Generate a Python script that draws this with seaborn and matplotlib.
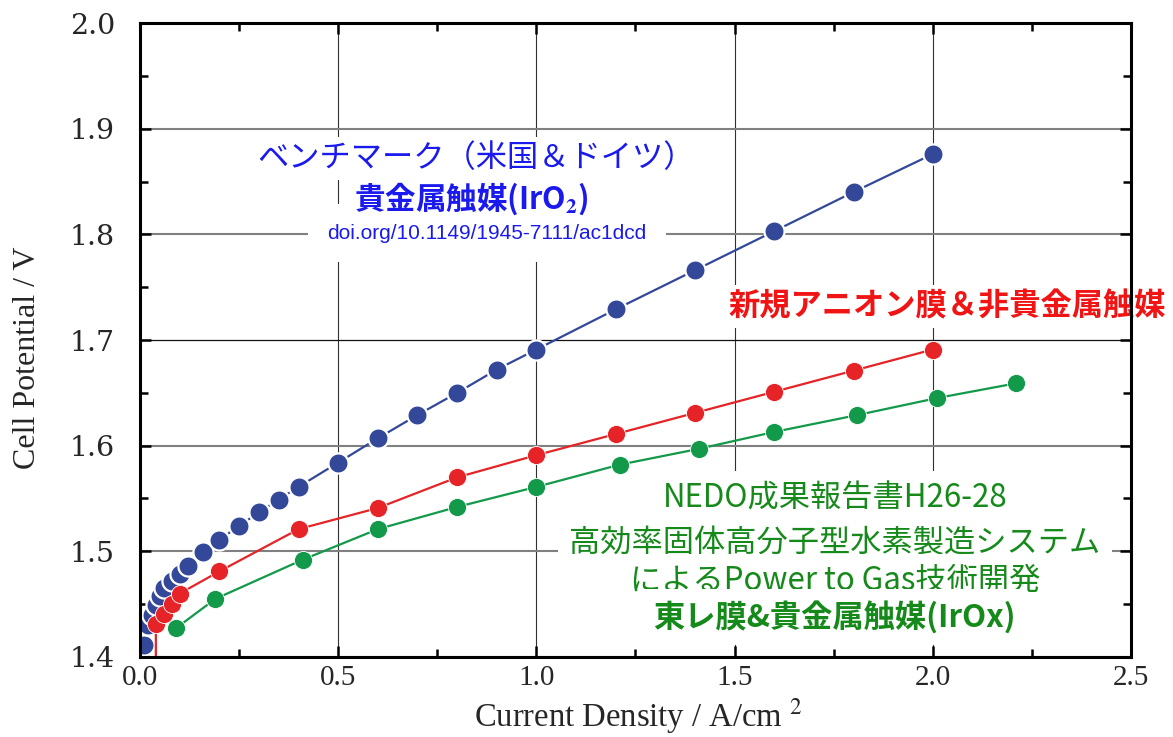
import matplotlib
matplotlib.use("Agg")
import matplotlib.pyplot as plt
import seaborn as sns
from matplotlib.ticker import MultipleLocator

# ---------------- data ----------------
blue_x = [0.00, 0.01, 0.02, 0.03, 0.04, 0.05, 0.06, 0.08, 0.10, 0.12, 0.16, 0.20,
          0.25, 0.30, 0.35, 0.40, 0.50, 0.60, 0.70, 0.80, 0.90, 1.00, 1.20, 1.40,
          1.60, 1.80, 2.00]
blue_y = [1.400, 1.411, 1.430, 1.440, 1.449, 1.458, 1.465, 1.472, 1.479, 1.486,
          1.499, 1.511, 1.524, 1.537, 1.549, 1.561, 1.584, 1.607, 1.629, 1.650,
          1.672, 1.691, 1.729, 1.766, 1.803, 1.840, 1.876]

red_x = [0.04, 0.04, 0.06, 0.08, 0.10, 0.20, 0.40, 0.60, 0.80, 1.00, 1.20, 1.40,
         1.60, 1.80, 2.00]
red_y = [1.30, 1.431, 1.441, 1.450, 1.460, 1.481, 1.521, 1.541, 1.570, 1.591,
         1.611, 1.631, 1.651, 1.671, 1.691]

green_x = [0.09, 0.19, 0.41, 0.60, 0.80, 1.00, 1.21, 1.41, 1.60, 1.81, 2.01, 2.21]
green_y = [1.427, 1.455, 1.492, 1.521, 1.542, 1.561, 1.582, 1.597, 1.613, 1.629,
           1.645, 1.659]

x_ticks = [0.0, 0.5, 1.0, 1.5, 2.0, 2.5]
x_tick_labels = ["0.0", "0.5", "1.0", "1.5", "2.0", "2.5"]
y_ticks = [1.4, 1.5, 1.6, 1.7, 1.8, 1.9, 2.0]
y_tick_labels = ["1.4", "1.5", "1.6", "1.7", "1.8", "1.9", "2.0"]

x_label = "Current Density / A/cm $^{2}$"
y_label = "Cell Potential / V"

blue_text = ["ベンチマーク（米国＆ドイツ）", r"貴金属触媒(IrO$_{\mathbf{2}}$)",
             "doi.org/10.1149/1945-7111/ac1dcd"]
red_text = "新規アニオン膜＆非貴金属触媒"
green_text = ["NEDO成果報告書H26-28", "高効率固体高分子型水素製造システム",
              "によるPower to Gas技術開発", "東レ膜&貴金属触媒(IrOx)"]

# ---------------- style ----------------
BLUE = "#34489a"
RED = "#e62326"
GREEN = "#12994a"
BLUE_TXT = "#1a1aee"
RED_TXT = "#f01414"
GREEN_TXT = "#158a1a"

sns.set_style("ticks")
plt.rcParams["font.family"] = ["Noto Sans CJK JP", "DejaVu Sans"]
plt.rcParams["mathtext.fontset"] = "stix"

fig = plt.figure(figsize=(11.73, 7.37), dpi=100)
ax = fig.add_axes([0.11935, 0.10855, 0.84484, 0.86024])

sns.lineplot(x=blue_x, y=blue_y, ax=ax, color=BLUE, marker="o", markersize=14.5,
             markeredgecolor="white", markeredgewidth=1.6, linewidth=1.6,
             estimator=None, sort=False, zorder=3)
sns.lineplot(x=green_x, y=green_y, ax=ax, color=GREEN, marker="o", markersize=13,
             markeredgecolor="white", markeredgewidth=0.6, linewidth=1.6,
             estimator=None, sort=False, zorder=3)
sns.lineplot(x=red_x, y=red_y, ax=ax, color=RED, marker="o", markersize=13,
             markeredgecolor="white", markeredgewidth=0.6, linewidth=1.6,
             estimator=None, sort=False, zorder=4)

ax.set_xlim(0.0, 2.5)
ax.set_ylim(1.4, 2.0)
ax.set_xticks(x_ticks)
ax.set_xticklabels(x_tick_labels, fontfamily="Liberation Serif", fontsize=21)
ax.set_yticks(y_ticks)
ax.set_yticklabels(y_tick_labels, fontfamily="DejaVu Serif", fontsize=20.5)
ax.xaxis.set_minor_locator(MultipleLocator(0.25))
ax.yaxis.set_minor_locator(MultipleLocator(0.05))
ax.tick_params(which="both", direction="in", top=True, right=True, width=1.8,
               color="black")
ax.tick_params(which="major", length=8)
ax.tick_params(which="minor", length=6)
ax.tick_params(axis="y", which="major", pad=18)
ax.tick_params(axis="x", which="major", pad=6)

for s in ax.spines.values():
    s.set_linewidth(2.2)
    s.set_color("black")
    s.set_zorder(5)

ax.set_axisbelow(True)
ax.grid(axis="y", which="major", color="#808080", linewidth=1.5)
ax.grid(axis="x", which="major", color="#303030", linewidth=0.8)
for val, gl in zip(y_ticks, ax.yaxis.get_gridlines()):
    if abs(val - 1.7) < 1e-9:
        gl.set_color("#111111")
        gl.set_linewidth(0.9)

ax.set_xlabel(x_label, fontfamily="Liberation Serif", fontsize=23.5)
ax.set_ylabel(y_label, fontfamily="Liberation Serif", fontsize=23)
ax.xaxis.set_label_coords(0.503, -0.062)
ax.yaxis.set_label_coords(-0.099, 0.472)

box = dict(facecolor="white", edgecolor="none", pad=4)

# blue annotation
ax.text(0.848, 1.872, blue_text[0], color=BLUE_TXT, fontsize=22.5, ha="center",
        va="center", bbox=box, zorder=2.6)
ax.text(0.835, 1.834, blue_text[1], color=BLUE_TXT, fontsize=22, fontweight="bold",
        ha="center", va="center", bbox=box, zorder=2.6)
ax.text(0.875, 1.801, blue_text[2], color=BLUE_TXT, fontsize=15,
        fontfamily="Liberation Sans", ha="center", va="center",
        bbox=dict(facecolor="white", edgecolor="none", pad=14), zorder=2.4)

# red annotation
ax.text(2.036, 1.732, red_text, color=RED_TXT, fontsize=22.5, fontweight="bold",
        ha="center", va="center", bbox=box, zorder=2.5, clip_on=False)

# green annotation
green_y_pos = [1.550, 1.508, 1.472, 1.438]
for i, (t, yy) in enumerate(zip(green_text, green_y_pos)):
    ax.text(1.753, yy, t, color=GREEN_TXT, fontsize=22.5,
            fontweight="bold" if i == 3 else "normal",
            ha="center", va="center", bbox=dict(facecolor="white", edgecolor="none", pad=8),
            zorder=2.5)

fig.savefig("out.png", dpi=100)
